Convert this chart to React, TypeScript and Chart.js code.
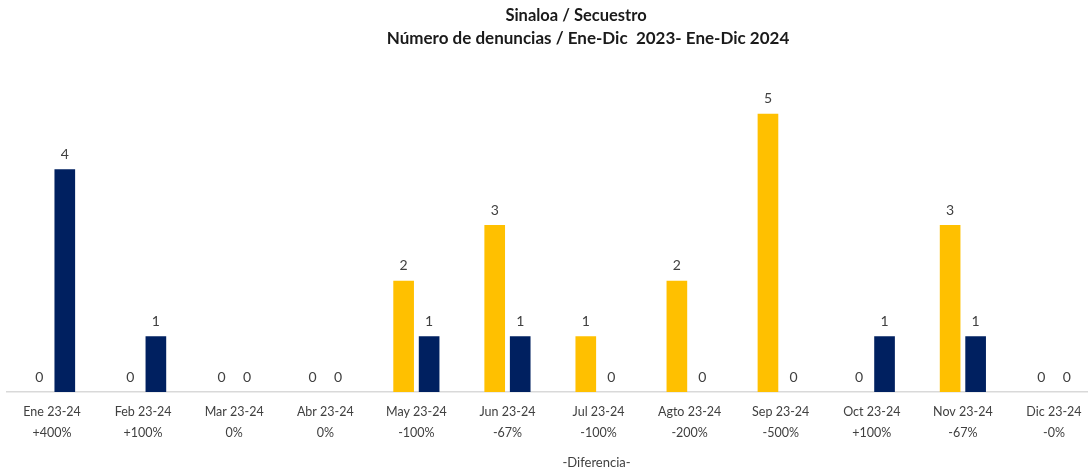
import React, { useEffect, useRef } from "react";
import { Chart, registerables } from "chart.js";

Chart.register(...registerables);

const months = ["Ene 23-24", "Feb 23-24", "Mar 23-24", "Abr 23-24", "May 23-24", "Jun 23-24", "Jul 23-24", "Agto 23-24", "Sep 23-24", "Oct 23-24", "Nov 23-24", "Dic 23-24"];
const differences = ["+400%", "+100%", "0%", "0%", "-100%", "-67%", "-100%", "-200%", "-500%", "+100%", "-67%", "-0%"];
const values2023 = [0, 0, 0, 0, 2, 3, 1, 2, 5, 0, 3, 0];
const values2024 = [4, 1, 0, 0, 1, 1, 0, 0, 0, 1, 1, 0];
const titleLine1 = "Sinaloa / Secuestro";
const titleLine2 = "Número de denuncias / Ene-Dic  2023- Ene-Dic 2024";
const axisTitle = "-Diferencia-";

const FONT = "Lato, 'Open Sans', sans-serif";

const overlayPlugin = {
  id: "overlay",
  afterDatasetsDraw(chart: any) {
    const ctx = chart.ctx;
    ctx.save();
    ctx.fillStyle = "#404040";
    ctx.font = `14px ${FONT}`;
    ctx.textAlign = "center";
    ctx.textBaseline = "middle";
    chart.data.datasets.forEach((ds: any, di: number) => {
      const meta = chart.getDatasetMeta(di);
      meta.data.forEach((bar: any, i: number) => {
        ctx.fillText(String(ds.data[i]), bar.x, bar.y - 15);
      });
    });
    // title
    ctx.fillStyle = "#1a1a1a";
    ctx.font = `bold 16.5px ${FONT}`;
    ctx.fillText(titleLine1, 576, 16);
    ctx.font = `bold 17px ${FONT}`;
    ctx.fillText(titleLine2, 588, 39);
    // axis title
    const xs = chart.scales.x;
    ctx.fillStyle = "#404040";
    ctx.font = `13px ${FONT}`;
    ctx.fillText(axisTitle, xs.getPixelForValue(6) - 2, 463);
    ctx.restore();
  },
};

export default function App() {
  const ref = useRef<HTMLCanvasElement>(null);
  useEffect(() => {
    if (!ref.current) return;
    document.body.style.margin = "0";
    document.body.style.overflow = "hidden";
    const chart = new Chart(ref.current, {
      type: "bar",
      data: {
        labels: months.map((m, i) => [m, differences[i]]),
        datasets: [
          {
            label: "2023",
            data: values2023,
            backgroundColor: "#FFC000",
            barPercentage: 0.81,
            categoryPercentage: 0.56,
          },
          {
            label: "2024",
            data: values2024,
            backgroundColor: "#002060",
            barPercentage: 0.81,
            categoryPercentage: 0.56,
          },
        ],
      },
      options: {
        responsive: false,
        animation: false,
        devicePixelRatio: 1,
        layout: { padding: { top: 58, left: 6.5, right: 0.5, bottom: 0 } },
        plugins: {
          legend: { display: false },
          title: { display: false },
          tooltip: { enabled: false },
        },
        scales: {
          x: {
            grid: { display: false, drawTicks: false },
            border: { display: true, color: "#D9D9D9", width: 1.5 },
            ticks: {
              color: "#404040",
              font: { family: FONT, size: 12.5, lineHeight: 1.65 },
              padding: 10,
              maxRotation: 0,
              autoSkip: false,
            },
            afterFit: (scale: any) => {
              scale.height = 80;
            },
          },
          y: {
            display: false,
            min: 0,
            max: 6,
          },
        },
      },
      plugins: [overlayPlugin],
    });
    return () => chart.destroy();
  }, []);
  return (
    <div style={{ position: "fixed", left: 0, top: 0, width: 1088, height: 472, overflow: "hidden", background: "#fff" }}>
      <canvas ref={ref} width={1100} height={472} style={{ display: "block" }} />
    </div>
  );
}
